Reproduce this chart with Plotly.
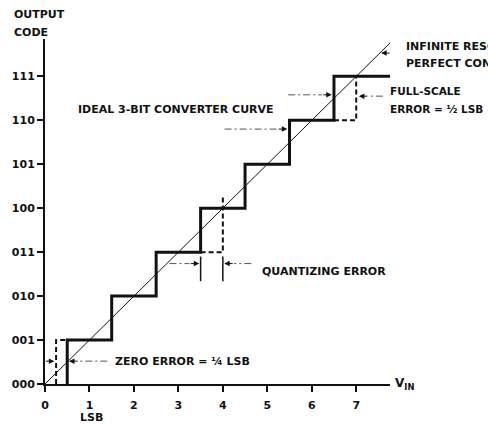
import plotly.graph_objects as go

# Output codes and their binary labels
codes = [0, 1, 2, 3, 4, 5, 6, 7]
code_labels = ["000", "001", "010", "011", "100", "101", "110", "111"]
lsb_ticks = [0, 1, 2, 3, 4, 5, 6, 7]

# Ideal converter: code k+1 is reached at input k + 1/2 LSB
transitions = [0.5, 1.5, 2.5, 3.5, 4.5, 5.5, 6.5]
curve_end = 7.76

# Infinite-resolution transfer line
diag_x = [0, 7.88]
diag_y = [0, 7.88]

# Error illustrations (dashed)
zero_err_x = [0.25, 0.25, 0.5]
zero_err_y = [0, 1, 1]
quant_x = [3.5, 4.0, 4.0]
quant_y = [3, 3, 4.25]
fullscale_x = [6.5, 7.0, 7.0]
fullscale_y = [6, 6, 7]

X_MAX = 7.76
Y_MAX = 7.85


def px(x):
    """Data x -> paper x (annotations outside the axes stay visible)."""
    return x / X_MAX


def py(y):
    return y / Y_MAX


# Build the staircase from the transition points
stair_x, stair_y = [], []
for k, t in enumerate(transitions):
    stair_x += [t, t]
    stair_y += [codes[k], codes[k + 1]]
stair_x.append(curve_end)
stair_y.append(codes[-1])

INK = "#111111"
FONT = dict(family="DejaVu Sans", size=11, color=INK, weight="bold")
FONT_SMALL = dict(FONT, size=10.5)

fig = go.Figure()

fig.add_trace(go.Scatter(x=diag_x, y=diag_y, mode="lines",
                         line=dict(color=INK, width=1), cliponaxis=False))
fig.add_trace(go.Scatter(x=stair_x, y=stair_y, mode="lines",
                         line=dict(color=INK, width=3), cliponaxis=False))
for xs, ys in [(zero_err_x, zero_err_y), (quant_x, quant_y), (fullscale_x, fullscale_y)]:
    fig.add_trace(go.Scatter(x=xs, y=ys, mode="lines", cliponaxis=False,
                             line=dict(color=INK, width=2, dash="5px,3px")))

# Extension lines marking the quantizing band
for xe in [3.5, 4.0]:
    fig.add_trace(go.Scatter(x=[xe, xe], y=[2.34, 2.9], mode="lines",
                             line=dict(color=INK, width=1.5), cliponaxis=False))

# Pointer arrows: (tail x, head x, y)
pointers = [
    (5.47, 6.45, 6.58),   # ideal curve, upper
    (4.04, 5.45, 5.80),   # ideal curve, lower
    (8.10, 7.56, 7.53),   # infinite resolution line
    (7.60, 7.06, 6.55),   # full-scale error
    (2.80, 3.47, 2.74),   # quantizing error, left
    (4.64, 4.03, 2.74),   # quantizing error, right
    (-0.80, 0.21, 0.52),  # zero error, left
    (1.40, 0.54, 0.52),   # zero error, right
]
HEAD_PX = 10
for tail, head, yy in pointers:
    sign = 1 if head > tail else -1
    step = sign * HEAD_PX / 45.0
    fig.add_trace(go.Scatter(x=[tail, head - step], y=[yy, yy], mode="lines",
                             line=dict(color="#555555", width=1, dash="7px,3px,2px,3px"),
                             cliponaxis=False))
    fig.add_annotation(x=px(head), y=py(yy), xref="paper", yref="paper",
                       ax=-sign * HEAD_PX, ay=0, axref="pixel", ayref="pixel",
                       text="", showarrow=True,
                       arrowhead=2, arrowsize=1.1, arrowwidth=1, arrowcolor=INK)

labels = [
    ("IDEAL 3-BIT CONVERTER CURVE", 0.70, 6.24, FONT),
    ("INFINITE RESOLUTION", 8.08, 7.69, FONT),
    ("PERFECT CONVERTER", 8.08, 7.30, FONT),
    ("FULL-SCALE", 7.72, 6.67, FONT_SMALL),
    ("ERROR = ½ LSB", 7.72, 6.26, FONT_SMALL),
    ("QUANTIZING ERROR", 4.84, 2.56, FONT),
    ("ZERO ERROR = ¼ LSB", 1.54, 0.52, FONT),
    ("OUTPUT", -0.74, 8.41, FONT),
    ("CODE", -0.74, 8.0, FONT),
    ("V<sub>IN</sub>", 7.82, 0.0, dict(FONT, size=12)),
]
for txt, xx, yy, fnt in labels:
    fig.add_annotation(x=px(xx), y=py(yy), xref="paper", yref="paper", text=txt,
                       showarrow=False, xanchor="left", yanchor="middle", font=fnt)
fig.add_annotation(x=px(1.04), y=py(-0.77), xref="paper", yref="paper", text="LSB",
                   showarrow=False, xanchor="center", yanchor="middle", font=FONT)

fig.update_layout(
    width=488, height=425,
    margin=dict(l=41, r=98, t=39, b=41),
    paper_bgcolor="white", plot_bgcolor="white",
    showlegend=False,
    xaxis=dict(range=[0, X_MAX], showgrid=False, zeroline=False,
               showline=True, linewidth=2, linecolor=INK,
               ticks="outside", ticklen=6, tickwidth=1.5, tickcolor=INK,
               tickvals=lsb_ticks, ticktext=[str(v) for v in lsb_ticks],
               tickfont=FONT, ticklabelstandoff=4),
    yaxis=dict(range=[0, Y_MAX], showgrid=False, zeroline=False,
               showline=True, linewidth=2, linecolor=INK,
               ticks="outside", ticklen=6, tickwidth=1.5, tickcolor=INK,
               tickvals=codes, ticktext=code_labels, tickfont=FONT),
)

fig.write_html("out.html")
